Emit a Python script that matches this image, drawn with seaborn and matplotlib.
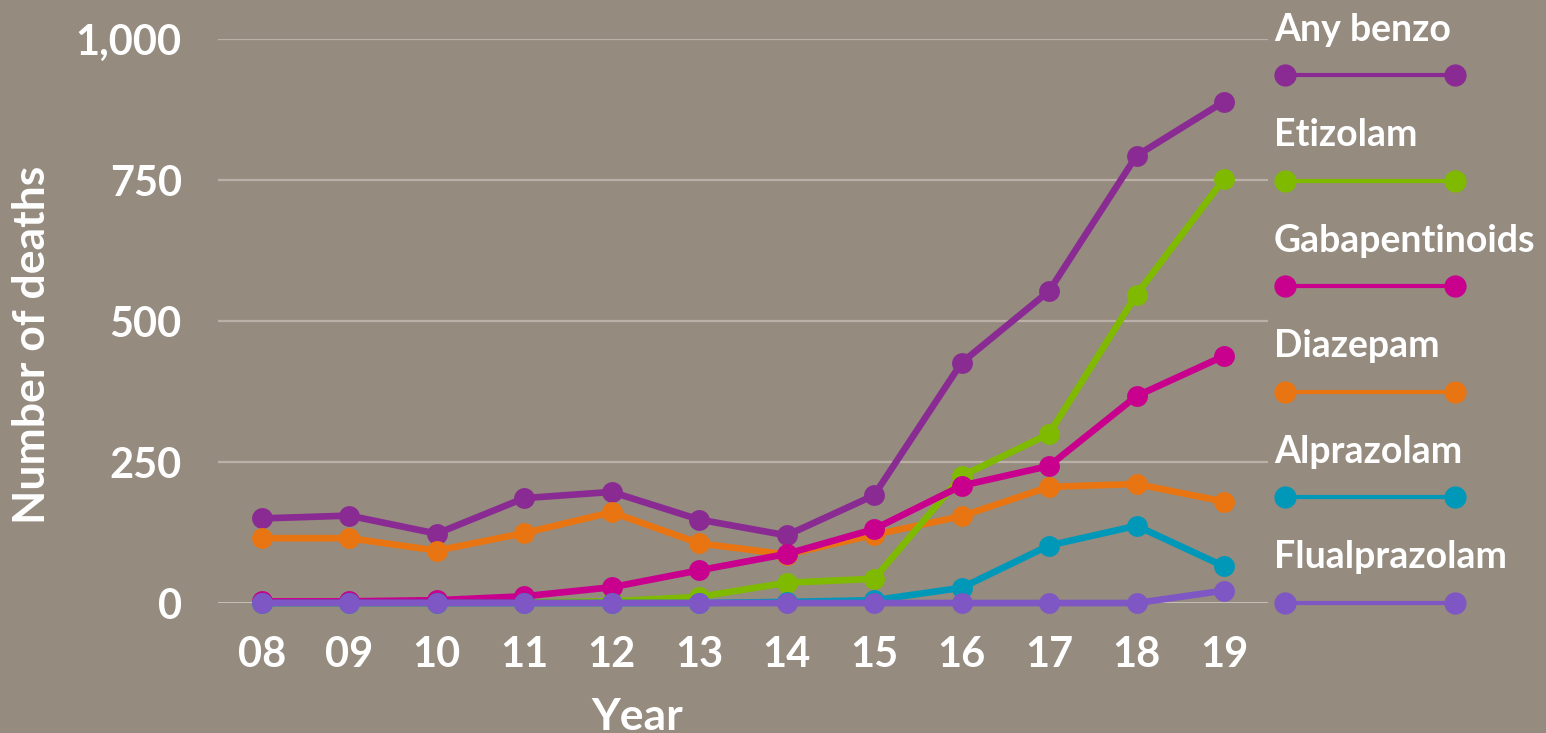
import pandas as pd
import matplotlib.pyplot as plt
import seaborn as sns
from matplotlib.lines import Line2D

# Data (deaths per year)
years = ["08", "09", "10", "11", "12", "13", "14", "15", "16", "17", "18", "19"]
any_benzo = [150, 155, 123, 186, 197, 148, 120, 191, 426, 553, 793, 889]
etizolam = [0, 0, 0, 1, 3, 11, 36, 43, 225, 300, 547, 752]
gabapentinoids = [3, 3, 5, 12, 28, 58, 87, 131, 208, 243, 367, 438]
diazepam = [115, 115, 93, 124, 161, 106, 86, 121, 154, 206, 211, 180]
alprazolam = [0, 0, 0, 0, 0, 0, 2, 5, 27, 102, 137, 65]
flualprazolam = [0, 0, 0, 0, 0, 0, 0, 0, 0, 0, 0, 22]

legend_order = ["Any benzo", "Etizolam", "Gabapentinoids", "Diazepam", "Alprazolam", "Flualprazolam"]
draw_order = ["Any benzo", "Diazepam", "Etizolam", "Gabapentinoids", "Alprazolam", "Flualprazolam"]
colors = {
    "Any benzo": "#8a2b93",
    "Etizolam": "#7fba00",
    "Gabapentinoids": "#c8008d",
    "Diazepam": "#e87512",
    "Alprazolam": "#0098b9",
    "Flualprazolam": "#7e57c4",
}
series = {
    "Any benzo": any_benzo,
    "Etizolam": etizolam,
    "Gabapentinoids": gabapentinoids,
    "Diazepam": diazepam,
    "Alprazolam": alprazolam,
    "Flualprazolam": flualprazolam,
}

rows = []
for name in draw_order:
    for i, v in enumerate(series[name]):
        rows.append({"drug": name, "idx": i, "deaths": v})
df = pd.DataFrame(rows)

BG = "#958b7f"
GRID = "#bab0a8"
sns.set_theme(style="white")
plt.rcParams["font.family"] = ["Lato", "DejaVu Sans"]

fig = plt.figure(figsize=(15.46, 7.33), dpi=100, facecolor=BG)
ax = fig.add_axes([0.141, 0.1773, 0.679, 0.7695])
ax.set_facecolor(BG)

for y in [250, 500, 750, 1000]:
    ax.axhline(y, color=GRID, lw=1.6, zorder=0)
ax.axhline(0, color="#d6d0ca", lw=1.8, zorder=0)

sns.lineplot(data=df, x="idx", y="deaths", hue="drug", hue_order=draw_order,
             palette=colors, marker="o", markersize=15, markeredgewidth=0,
             linewidth=4.8, legend=False, ax=ax, clip_on=False, zorder=3)

ax.set_xlim(-0.5, 11.5)
ax.set_ylim(0, 1000)
ax.set_yticks([0, 250, 500, 750, 1000])
ax.set_yticklabels(["0", "250", "500", "750", "1,000"])
ax.set_xticks(range(len(years)))
ax.set_xticklabels(years)
ax.tick_params(axis="both", length=0, labelcolor="white", labelsize=30)
for lab in ax.get_xticklabels() + ax.get_yticklabels():
    lab.set_fontweight("bold")
ax.tick_params(axis="y", pad=26)
ax.tick_params(axis="x", pad=24)
for s in ax.spines.values():
    s.set_visible(False)
ax.set_xlabel("Year", color="white", fontsize=32, fontweight="bold")
ax.xaxis.set_label_coords(0.399, -0.166)
ax.set_ylabel("Number of deaths", color="white", fontsize=32, fontweight="bold")
ax.yaxis.set_label_coords(-0.158, 0.457)

# custom legend: label above a line segment with markers at both ends
W, H = 1546, 733
for k, name in enumerate(legend_order):
    ty = 30 + k * 105.4
    ly = 75 + k * 105.6
    fig.text(1274 / W, 1 - ty / H, name, color="white", fontsize=27, fontweight="bold",
             ha="left", va="center")
    fig.add_artist(Line2D([1285 / W, 1455 / W], [1 - ly / H, 1 - ly / H], color=colors[name],
                          lw=3, marker="o", markersize=16, markeredgewidth=0,
                          transform=fig.transFigure))

fig.savefig("out.png", dpi=100, facecolor=BG)
